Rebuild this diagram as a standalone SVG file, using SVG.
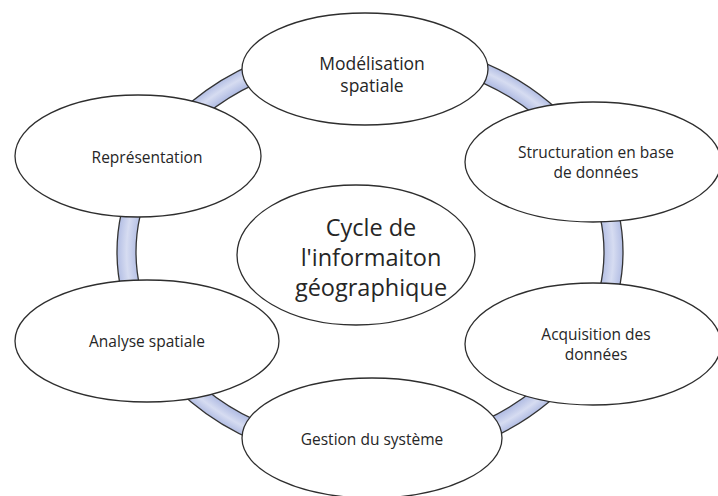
<svg xmlns="http://www.w3.org/2000/svg" width="718" height="496" viewBox="0 0 718 496">
  <defs>
    <radialGradient id="ringGrad" gradientUnits="userSpaceOnUse" cx="370" cy="252" r="253" gradientTransform="translate(370 252) scale(1 0.838) translate(-370 -252)">
      <stop offset="0.92" stop-color="#b3bee4"/>
      <stop offset="0.962" stop-color="#d6dcf1"/>
      <stop offset="1" stop-color="#b3bee4"/>
    </radialGradient>
  </defs>
  <style>
    .node { fill: #ffffff; stroke: #2e2e2e; stroke-width: 1.3; }
    .lbl { font-family: "Open Sans", "Liberation Sans", sans-serif; fill: #262626; text-anchor: middle; }
    .s { font-size: 15.5px; }
    .m { font-size: 17.5px; }
    .c { font-size: 23.5px; }
    .ring { fill: url(#ringGrad); fill-rule: evenodd; stroke: #333333; stroke-width: 1.3; }
  </style>
  <rect x="0" y="0" width="718" height="496" fill="#ffffff"/>
  <g id="connectors">
    <path class="ring" d="M 117 252 A 253 212 0 1 0 623 252 A 253 212 0 1 0 117 252 Z M 136 252 A 234 193 0 1 0 604 252 A 234 193 0 1 0 136 252 Z"/>
  </g>
  <g id="node-modelisation">
    <ellipse class="node" cx="365" cy="69" rx="123" ry="56"/>
    <text class="lbl m" x="372" y="70">Modélisation</text>
    <text class="lbl m" x="372" y="92">spatiale</text>
  </g>
  <g id="node-structuration">
    <ellipse class="node" cx="593" cy="162" rx="128" ry="60"/>
    <text class="lbl s" x="596" y="158">Structuration en base</text>
    <text class="lbl s" x="596" y="178">de données</text>
  </g>
  <g id="node-acquisition">
    <ellipse class="node" cx="593" cy="344" rx="128" ry="61"/>
    <text class="lbl s" x="596" y="340">Acquisition des</text>
    <text class="lbl s" x="596" y="360">données</text>
  </g>
  <g id="node-gestion">
    <ellipse class="node" cx="372" cy="438" rx="130" ry="60"/>
    <text class="lbl s" x="372" y="445">Gestion du système</text>
  </g>
  <g id="node-analyse">
    <ellipse class="node" cx="147" cy="341" rx="132" ry="61"/>
    <text class="lbl s" x="147" y="347">Analyse spatiale</text>
  </g>
  <g id="node-representation">
    <ellipse class="node" cx="138" cy="156" rx="123" ry="61"/>
    <text class="lbl s" x="147" y="163">Représentation</text>
  </g>
  <g id="node-centre">
    <ellipse class="node" cx="356" cy="255" rx="119" ry="70"/>
    <text class="lbl c" x="371" y="236">Cycle de</text>
    <text class="lbl c" x="371" y="266">l'informaiton</text>
    <text class="lbl c" x="371" y="296">géographique</text>
  </g>
</svg>
